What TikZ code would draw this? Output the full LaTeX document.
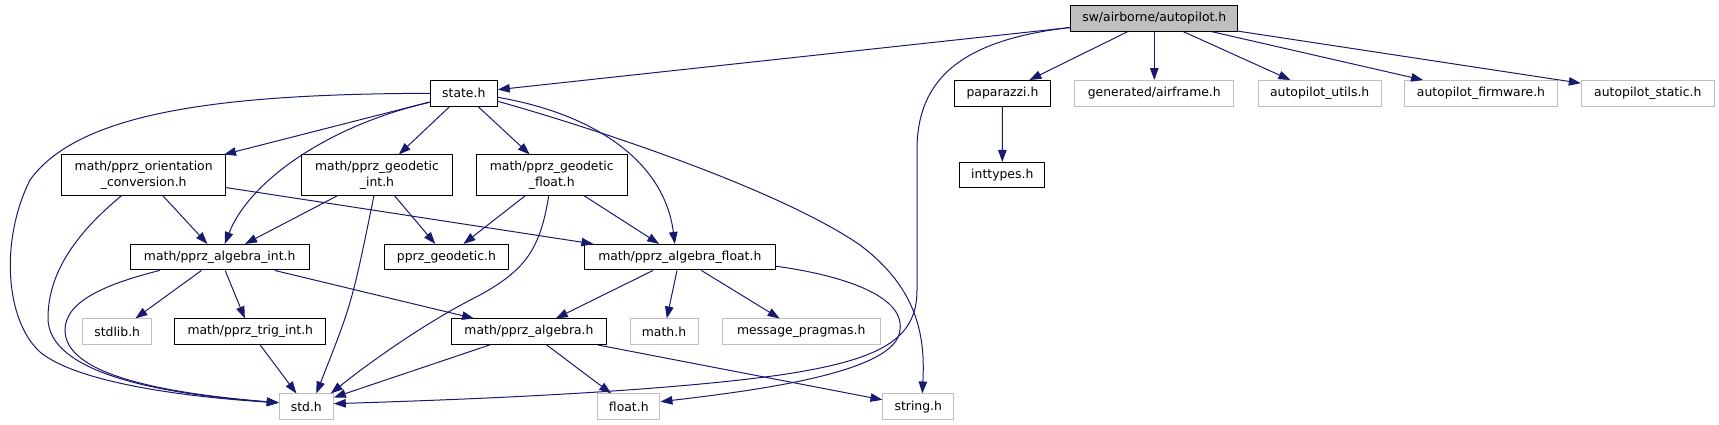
\documentclass[tikz,border=0pt]{standalone}
\usepackage{fontspec}
\setmainfont{DejaVu Sans}
\usetikzlibrary{arrows.meta}
\definecolor{edgeblue}{HTML}{191970}
\definecolor{extgrey}{HTML}{BFBFBF}

\begin{document}
\begin{tikzpicture}[x=1pt, y=-1pt,
  font=\fontsize{12.4}{15.7}\selectfont,
  file/.style={draw=black, line width=1pt, fill=white, inner sep=0pt,
    minimum height=25.5pt, align=center},
  ext/.style={file, draw=extgrey},
  dep/.style={draw=edgeblue, line width=1pt,
    -{Triangle[length=12pt,width=8.5pt]}}]
  \useasboundingbox (0,0) rectangle (1719,425);

  % top level header
  \node[file, fill=extgrey, minimum width=166.7pt] (root) at (1154.3,18.5) {sw/airborne/autopilot.h};

  % direct includes
  \node[file, minimum width=67pt]  (state)     at (463.8,93.3)  {state.h};
  \node[file, minimum width=96.4pt] (paparazzi) at (1002.5,93.3) {paparazzi.h};
  \node[ext, minimum width=158.7pt] (airframe) at (1154.3,93.3) {generated/airframe.h};
  \node[ext, minimum width=122.7pt] (utils)    at (1319.7,93.3) {autopilot\_utils.h};
  \node[ext, minimum width=152.4pt] (firmware) at (1481,93.3)   {autopilot\_firmware.h};
  \node[ext, minimum width=133pt]   (static)   at (1647.8,93.3) {autopilot\_static.h};

  % second level
  \node[file, minimum width=164pt, minimum height=40pt]   (orient)   at (143.7,175) {math/pprz\_orientation\\\_conversion.h};
  \node[file, minimum width=150.7pt, minimum height=40pt] (geoint)   at (377,175)   {math/pprz\_geodetic\\\_int.h};
  \node[file, minimum width=151pt, minimum height=40pt]   (geofloat) at (551.8,175) {math/pprz\_geodetic\\\_float.h};
  \node[file, minimum width=85pt]   (inttypes) at (1002.3,175.2) {inttypes.h};

  % algebra level
  \node[file, minimum width=179.3pt] (algint)   at (219.7,257.2) {math/pprz\_algebra\_int.h};
  \node[file, minimum width=124.3pt] (geodetic) at (446.5,257.2) {pprz\_geodetic.h};
  \node[file, minimum width=191pt]   (algfloat) at (679.8,257.2) {math/pprz\_algebra\_float.h};

  \node[ext, minimum width=69pt]     (stdlib)  at (117.2,331.7) {stdlib.h};
  \node[file, minimum width=150.7pt] (trigint) at (250.3,331.7) {math/pprz\_trig\_int.h};
  \node[file, minimum width=155.4pt] (algebra) at (529,331.7)   {math/pprz\_algebra.h};
  \node[ext, minimum width=68pt]     (mathh)   at (664,331.7)   {math.h};
  \node[ext, minimum width=157.7pt]  (pragmas) at (801.2,331.7) {message\_pragmas.h};

  % system headers
  \node[ext, minimum width=54pt]   (stdh)    at (306.3,406.7) {std.h};
  \node[ext, minimum width=62.3pt] (floath)  at (628.8,406.7) {float.h};
  \node[ext, minimum width=70.7pt] (stringh) at (918.3,406.7) {string.h};

  % straight dependencies
  \foreach \a/\b in {root/state, root/paparazzi, root/airframe, root/utils,
      root/firmware, root/static, paparazzi/inttypes, state/orient,
      state/geoint, state/geofloat, orient/algint, orient/algfloat,
      geoint/algint, geoint/geodetic, geofloat/geodetic, geofloat/algfloat,
      algint/stdlib, algint/trigint, algint/algebra, algfloat/algebra,
      algfloat/mathh, algfloat/pragmas, trigint/stdh, algebra/stdh,
      algebra/floath, algebra/stringh}{
    \draw[dep] (\a) -- (\b);
  }

  % curved dependencies
  \draw[dep] (state.west) .. controls (230,94) and (80,110) .. (30,180)
    .. controls (0,240) and (5,320) .. (40,352)
    .. controls (80,385) and (200,398) .. ([yshift=4pt]stdh.west);
  \draw[dep] ([xshift=-22pt]orient.south) .. controls (80,230) and (48,270) .. (48,318)
    .. controls (48,365) and (130,392) .. ([yshift=4pt]stdh.west);
  \draw[dep] ([xshift=-60pt]algint.south) .. controls (110,283) and (65,300) .. (65,330)
    .. controls (65,372) and (150,392) .. ([yshift=4pt]stdh.west);
  \draw[dep] ([yshift=-9pt]state.west) .. controls (330,125) and (250,180) .. ([xshift=5pt]algint.north);
  \draw[dep] ([yshift=-4pt]state.east) .. controls (600,115) and (665,165) .. ([xshift=-5pt]algfloat.north);
  \draw[dep] ([yshift=-8pt]state.east) .. controls (600,130) and (780,190) .. (860,245)
    .. controls (920,290) and (925,340) .. ([xshift=4pt]stringh.north);
  \draw[dep] ([xshift=-3pt]geoint.south) .. controls (352,303) .. ([xshift=10pt]stdh.north);
  \draw[dep] ([xshift=-3pt]geofloat.south) .. controls (540,250) and (525,270) .. (480,295)
    .. controls (420,325) and (360,370) .. ([xshift=-3pt]stdh.north east);
  \draw[dep] ([yshift=-9pt]root.west) .. controls (960,40) and (917,80) .. (917,150)
    -- (917,290) .. controls (917,340) and (880,360) .. (780,375)
    .. controls (650,393) and (450,400) .. ([yshift=3pt]stdh.east);
  \draw[dep] ([yshift=-9pt]algfloat.east) .. controls (840,275) and (905,295) .. (900,330)
    .. controls (897,372) and (760,390) .. ([yshift=5pt]floath.east);
\end{tikzpicture}
\end{document}
